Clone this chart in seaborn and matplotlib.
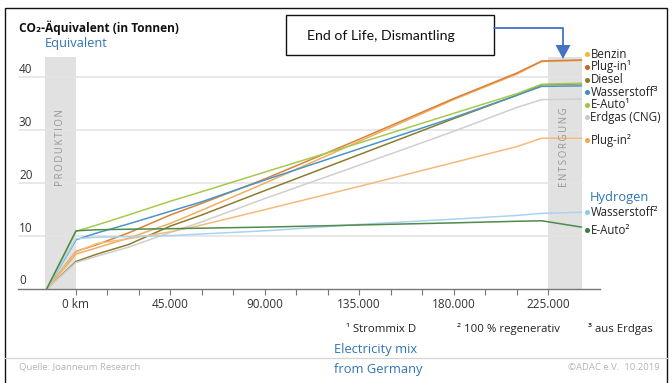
import numpy as np
import pandas as pd
import matplotlib
matplotlib.use("Agg")
import matplotlib.pyplot as plt
from matplotlib.patches import Rectangle, Polygon
from matplotlib.lines import Line2D
import seaborn as sns

# ---------------- data ----------------
km = [-14000, 0, 10000, 25000, 45000, 60000, 90000, 135000, 180000, 210000, 222000, 241000]

benzin       = [0, 6.6, 7.8, 9.6, 12.4, 14.9, 20.0, 27.9, 35.8, 40.6, 43.0, 43.2]
plugin1      = [0, 7.1, 8.4, 10.6, 14.0, 16.2, 20.8, 28.3, 36.0, 40.8, 43.1, 43.3]
diesel       = [0, 5.2, 6.6, 8.4, 11.9, 14.0, 18.6, 25.4, 32.2, 36.6, 38.6, 38.8]
wasserstoff3 = [0, 9.3, 10.6, 12.3, 14.7, 16.5, 20.6, 26.5, 32.4, 36.6, 38.3, 38.4]
eauto1       = [0, 10.9, 12.1, 14.0, 16.6, 18.4, 22.1, 27.6, 33.2, 36.9, 38.7, 38.9]
erdgas       = [0, 5.0, 6.2, 7.9, 10.7, 12.7, 17.1, 23.4, 29.8, 34.3, 35.8, 35.9]
plugin2      = [0, 7.0, 8.6, 9.5, 10.8, 12.1, 15.0, 19.4, 23.9, 26.9, 28.5, 28.5]
wasserstoff2 = [0, 9.5, 9.8, 9.9, 10.1, 10.4, 11.0, 12.2, 13.2, 13.9, 14.3, 14.5]
eauto2       = [0, 11.0, 11.2, 11.3, 11.4, 11.5, 11.7, 12.1, 12.5, 12.8, 12.9, 11.7]

series_names = ["Benzin", "Plug-in¹", "Diesel", "Wasserstoff³", "E-Auto¹",
                "Erdgas (CNG)", "Plug-in²", "Wasserstoff²", "E-Auto²"]
series_values = [benzin, plugin1, diesel, wasserstoff3, eauto1,
                 erdgas, plugin2, wasserstoff2, eauto2]
colors = ["#F2AE5E", "#D9823A", "#8C7D2C", "#4A95C6", "#A6C94C",
          "#CFCFCF", "#F6BA78", "#A9D3EE", "#4E8A4C"]
dot_colors = ["#F5B82E", "#C8651E", "#8C7D2C", "#3D8FC6", "#9CC83C",
              "#C8C8C8", "#F5A54A", "#8EC8EA", "#3C7A3C"]
label_y_px = [54, 66.5, 79.5, 92, 104.5, 117, 140, 212, 230]

xtick_vals = [0, 45000, 90000, 135000, 180000, 225000]
xtick_labels = ["0 km", "45.000", "90.000", "135.000", "180.000", "225.000"]
ytick_vals = [0, 10, 20, 30, 40]

W, H = 672, 383

def fx(x):
    return x / W

def fy(y):
    return 1 - y / H

rows = []
for name, vals in zip(series_names, series_values):
    for k, v in zip(km, vals):
        rows.append({"km": k, "co2": v, "series": name})
df = pd.DataFrame(rows)

sns.set_theme(style="white")
FAM = ["Open Sans", "DejaVu Sans"]
plt.rcParams["font.family"] = FAM

fig = plt.figure(figsize=(W / 100, H / 100), dpi=100)

# axes spanning pixel x 18..600, y 50..289
ax_l, ax_r, ax_t, ax_b = 18, 600, 50, 289
ax = fig.add_axes([fx(ax_l), fy(ax_b), (ax_r - ax_l) / W, (ax_b - ax_t) / H])
kmpp = 45000 / 94.4
xmin = (ax_l - 76) * kmpp
xmax = (ax_r - 76) * kmpp
vpp = 1 / 5.29
ymax = (ax_b - ax_t) * vpp
ax.set_xlim(xmin, xmax)
ax.set_ylim(0, ymax)
ax.set_facecolor("none")

# bands
band_top = (ax_b - 57) * vpp
ax.add_patch(Rectangle((-15000, 0), 15000, band_top, color="#E1E1E1", lw=0, zorder=0))
ax.add_patch(Rectangle((225000, 0), 16200, band_top, color="#E1E1E1", lw=0, zorder=0))

# gridlines
grid_x0 = (19 - 76) * kmpp
grid_x1 = (582 - 76) * kmpp
for v in ytick_vals[1:]:
    ax.plot([grid_x0, grid_x1], [v, v], color="#E4E4E4", lw=1.2, zorder=1)

sns.lineplot(data=df, x="km", y="co2", hue="series", palette=dict(zip(series_names, colors)),
             hue_order=series_names, sort=False, estimator=None, legend=False,
             lw=1.1, ax=ax, zorder=3)

for s in ["top", "right", "left"]:
    ax.spines[s].set_visible(False)
ax.spines["bottom"].set_color("#777777")
ax.spines["bottom"].set_linewidth(1.0)
ax.set_xticks(list(range(0, 225001, 15000)))
ax.set_xticklabels([])
ax.tick_params(axis="x", length=4, color="#777777", width=0.8, direction="out", bottom=True)
ax.set_yticks([])
ax.set_xlabel("")
ax.set_ylabel("")

# x tick labels
for v, lab in zip(xtick_vals, xtick_labels):
    ax.text(v, -16 * vpp, lab, ha="center", va="center", fontsize=8.5, color="#333333")

# y tick labels
for v in ytick_vals:
    ax.text(grid_x0, v + 0.3, str(v), ha="left", va="bottom", fontsize=8.5, color="#333333")

# band texts
ax.text(-7500, (ax_b - 148) * vpp, "P\u2009R\u2009O\u2009D\u2009U\u2009K\u2009T\u2009I\u2009O\u2009N",
        rotation=90, ha="center", va="center", fontsize=6.9, color="#959595", family=FAM)
ax.text(233100, (ax_b - 147) * vpp, "E\u2009N\u2009T\u2009S\u2009O\u2009R\u2009G\u2009U\u2009N\u2009G",
        rotation=90, ha="center", va="center", fontsize=6.9, color="#959595", family=FAM)

# right-hand labels
for name, c, y in zip(series_names, dot_colors, label_y_px):
    fig.add_artist(Line2D([fx(586.5)], [fy(y)], marker="o", ms=2.6, color=c, mec=c))
    fig.text(fx(590.5), fy(y), name, ha="left", va="center", fontsize=8.3, color="#222222")

# title
fig.text(fx(19), fy(28), "CO₂-Äquivalent (in Tonnen)", ha="left", va="center",
         fontsize=8.6, fontweight="bold", color="#111111")
fig.text(fx(45), fy(43), "Equivalent", ha="left", va="center", fontsize=9.3, color="#2E75B6")

# blue annotations
fig.text(fx(590), fy(197), "Hydrogen", ha="left", va="center", fontsize=9.3, color="#2E75B6")
fig.text(fx(334), fy(350), "Electricity mix", ha="left", va="center", fontsize=9.3, color="#2E75B6")
fig.text(fx(334), fy(369), "from Germany", ha="left", va="center", fontsize=9.3, color="#2E75B6")

# footnotes
fig.text(fx(346), fy(329), "¹ Strommix D", ha="left", va="center", fontsize=8.2, color="#222222")
fig.text(fx(457), fy(329), "² 100 % regenerativ", ha="left", va="center", fontsize=8.2, color="#222222")
fig.text(fx(588), fy(329), "³ aus Erdgas", ha="left", va="center", fontsize=8.2, color="#222222")

# separator and sources
fig.add_artist(Line2D([fx(5), fx(667)], [fy(358), fy(358)], color="#D5D5D5", lw=0.9))
fig.text(fx(19), fy(367), "Quelle: Joanneum Research", ha="left", va="center", fontsize=6.8, color="#B5B5B5")
fig.text(fx(660), fy(368), "©ADAC e.V.  10.2019", ha="right", va="center", fontsize=6.8, color="#B5B5B5")

# End of life box and arrow
fig.add_artist(Rectangle((fx(286), fy(55)), (494 - 286) / W, (55 - 15) / H,
                         transform=fig.transFigure, fill=False, ec="#111111", lw=1.0))
fig.text(fx(307), fy(36), "End of Life, Dismantling", ha="left", va="center",
         fontsize=10.2, color="#111111", family=["Lato", "DejaVu Sans"])
fig.add_artist(Line2D([fx(494), fx(563), fx(563)], [fy(28), fy(28), fy(46)], color="#4472C4", lw=1.3))
fig.add_artist(Polygon([[fx(555.5), fy(45)], [fx(570.5), fy(45)], [fx(563), fy(59)]],
                       closed=True, transform=fig.transFigure, color="#4472C4", lw=0))

# outer frame
fig.add_artist(Rectangle((fx(5), fy(392)), (667 - 5) / W, (392 - 8) / H,
                         transform=fig.transFigure, fill=False, ec="#111111", lw=1.0, clip_on=True))

fig.savefig("out.png", dpi=100)
